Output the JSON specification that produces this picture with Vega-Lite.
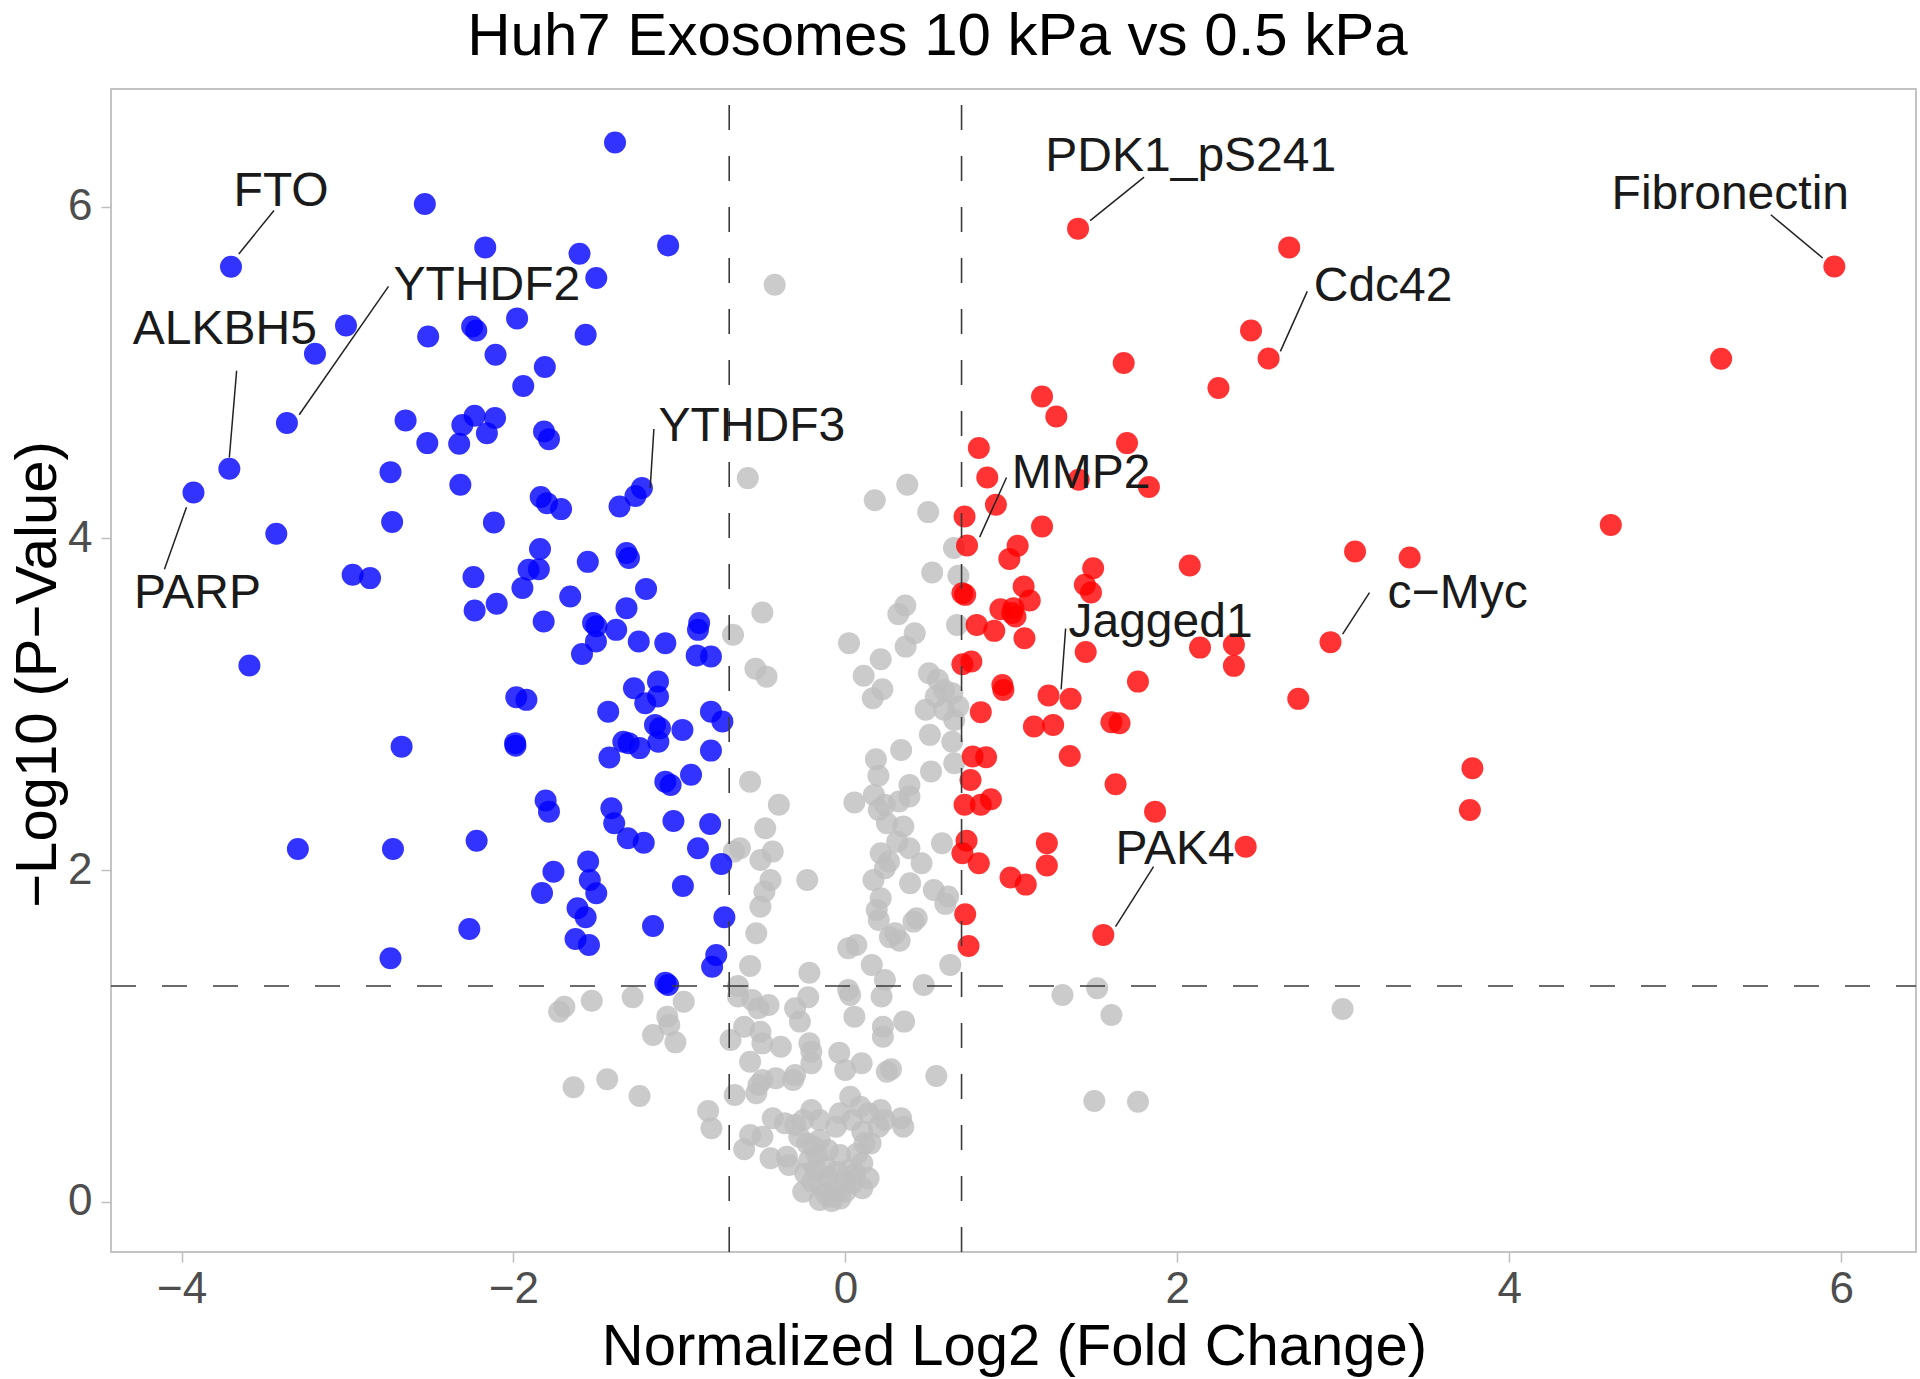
{
  "$schema": "https://vega.github.io/schema/vega-lite/v6.json",
  "width": 1805,
  "height": 1163,
  "autosize": {"type": "none"},
  "padding": {"left": 111, "top": 89, "right": 4, "bottom": 127},
  "background": "white",
  "config": {
    "view": {"stroke": "#C4C4C4", "strokeWidth": 2},
    "font": "Liberation Sans",
    "axis": {"grid": false, "domain": false, "tickSize": 10, "tickWidth": 1.5, "tickColor": "#BFBFBF", "labelFontSize": 44, "labelColor": "#4D4D4D",
             "labelFont": "Liberation Sans", "titleFont": "Liberation Sans", "titleFontSize": 58, "titleFontWeight": "normal", "titleColor": "black",
             "labelFlush": false, "labelOverlap": false, "format": "d"}
  },
  "title": {"text": "Huh7 Exosomes 10 kPa vs 0.5 kPa", "fontSize": 60, "fontWeight": "normal", "font": "Liberation Sans", "color": "black", "anchor": "middle", "dx": -76, "offset": 20},
  "datasets": {
    "points": [
      {"x": -1.693, "y": 1.176, "g": "ns"}, {"x": -1.725, "y": 1.146, "g": "ns"}, {"x": -1.528, "y": 1.212, "g": "ns"}, {"x": -1.282, "y": 1.233, "g": "ns"},
      {"x": -0.974, "y": 1.206, "g": "ns"}, {"x": -1.073, "y": 1.116, "g": "ns"}, {"x": -1.061, "y": 1.066, "g": "ns"}, {"x": -1.159, "y": 1.005, "g": "ns"},
      {"x": -1.024, "y": 0.961, "g": "ns"}, {"x": -1.638, "y": 0.690, "g": "ns"}, {"x": -1.435, "y": 0.738, "g": "ns"}, {"x": -1.240, "y": 0.637, "g": "ns"},
      {"x": -0.827, "y": 0.547, "g": "ns"}, {"x": -0.807, "y": 0.443, "g": "ns"},
      {"x": -0.426, "y": 5.529, "g": "ns"}, {"x": -0.588, "y": 4.363, "g": "ns"}, {"x": 0.373, "y": 4.323, "g": "ns"}, {"x": 0.177, "y": 4.230, "g": "ns"},
      {"x": 0.499, "y": 4.158, "g": "ns"}, {"x": 0.654, "y": 3.941, "g": "ns"}, {"x": 0.523, "y": 3.794, "g": "ns"}, {"x": 0.681, "y": 3.774, "g": "ns"},
      {"x": -0.500, "y": 3.553, "g": "ns"}, {"x": -0.677, "y": 3.418, "g": "ns"}, {"x": 0.361, "y": 3.595, "g": "ns"}, {"x": 0.319, "y": 3.543, "g": "ns"},
      {"x": 0.418, "y": 3.428, "g": "ns"}, {"x": 0.022, "y": 3.368, "g": "ns"}, {"x": 0.363, "y": 3.347, "g": "ns"}, {"x": 0.213, "y": 3.271, "g": "ns"},
      {"x": 0.673, "y": 3.478, "g": "ns"}, {"x": -0.542, "y": 3.213, "g": "ns"}, {"x": -0.475, "y": 3.166, "g": "ns"}, {"x": 0.110, "y": 3.171, "g": "ns"},
      {"x": 0.504, "y": 3.187, "g": "ns"}, {"x": 0.223, "y": 3.090, "g": "ns"}, {"x": 0.165, "y": 3.036, "g": "ns"}, {"x": 0.558, "y": 3.147, "g": "ns"},
      {"x": 0.595, "y": 3.086, "g": "ns"}, {"x": 0.545, "y": 3.046, "g": "ns"}, {"x": 0.644, "y": 3.066, "g": "ns"}, {"x": 0.484, "y": 2.966, "g": "ns"},
      {"x": 0.595, "y": 2.966, "g": "ns"}, {"x": 0.681, "y": 2.986, "g": "ns"}, {"x": 0.656, "y": 2.905, "g": "ns"}, {"x": 0.509, "y": 2.815, "g": "ns"},
      {"x": 0.644, "y": 2.774, "g": "ns"}, {"x": 0.656, "y": 2.644, "g": "ns"}, {"x": 0.516, "y": 2.594, "g": "ns"}, {"x": 0.336, "y": 2.724, "g": "ns"},
      {"x": 0.184, "y": 2.668, "g": "ns"}, {"x": 0.199, "y": 2.568, "g": "ns"}, {"x": 0.386, "y": 2.513, "g": "ns"}, {"x": 0.172, "y": 2.453, "g": "ns"},
      {"x": 0.054, "y": 2.407, "g": "ns"}, {"x": 0.238, "y": 2.393, "g": "ns"}, {"x": 0.201, "y": 2.362, "g": "ns"}, {"x": 0.324, "y": 2.413, "g": "ns"},
      {"x": 0.386, "y": 2.443, "g": "ns"}, {"x": 0.250, "y": 2.282, "g": "ns"}, {"x": 0.349, "y": 2.262, "g": "ns"}, {"x": 0.312, "y": 2.171, "g": "ns"},
      {"x": 0.386, "y": 2.131, "g": "ns"}, {"x": 0.213, "y": 2.101, "g": "ns"}, {"x": 0.263, "y": 2.051, "g": "ns"}, {"x": 0.238, "y": 2.011, "g": "ns"},
      {"x": 0.459, "y": 2.041, "g": "ns"}, {"x": 0.582, "y": 2.162, "g": "ns"}, {"x": 0.169, "y": 1.940, "g": "ns"}, {"x": 0.390, "y": 1.920, "g": "ns"},
      {"x": 0.533, "y": 1.880, "g": "ns"}, {"x": 0.619, "y": 1.840, "g": "ns"}, {"x": -0.401, "y": 2.393, "g": "ns"}, {"x": -0.574, "y": 2.533, "g": "ns"},
      {"x": -0.483, "y": 2.252, "g": "ns"}, {"x": -0.635, "y": 2.131, "g": "ns"}, {"x": -0.672, "y": 2.111, "g": "ns"}, {"x": -0.438, "y": 2.111, "g": "ns"},
      {"x": -0.512, "y": 2.061, "g": "ns"}, {"x": -0.451, "y": 1.940, "g": "ns"}, {"x": -0.230, "y": 1.940, "g": "ns"}, {"x": -0.488, "y": 1.870, "g": "ns"},
      {"x": 0.213, "y": 1.830, "g": "ns"}, {"x": -0.512, "y": 1.779, "g": "ns"}, {"x": -0.537, "y": 1.619, "g": "ns"}, {"x": -0.574, "y": 1.422, "g": "ns"},
      {"x": -0.647, "y": 1.301, "g": "ns"}, {"x": -0.647, "y": 1.237, "g": "ns"}, {"x": -0.562, "y": 1.217, "g": "ns"}, {"x": -0.524, "y": 1.166, "g": "ns"},
      {"x": -0.463, "y": 1.186, "g": "ns"}, {"x": -0.303, "y": 1.166, "g": "ns"}, {"x": -0.274, "y": 1.086, "g": "ns"}, {"x": -0.217, "y": 1.381, "g": "ns"},
      {"x": -0.224, "y": 1.233, "g": "ns"}, {"x": -0.610, "y": 1.055, "g": "ns"}, {"x": -0.692, "y": 0.975, "g": "ns"}, {"x": -0.512, "y": 1.025, "g": "ns"},
      {"x": -0.500, "y": 0.955, "g": "ns"}, {"x": -0.389, "y": 0.935, "g": "ns"}, {"x": -0.217, "y": 0.955, "g": "ns"}, {"x": -0.205, "y": 0.905, "g": "ns"},
      {"x": -0.205, "y": 0.835, "g": "ns"}, {"x": -0.574, "y": 0.844, "g": "ns"}, {"x": -0.500, "y": 0.734, "g": "ns"}, {"x": -0.524, "y": 0.704, "g": "ns"},
      {"x": -0.537, "y": 0.654, "g": "ns"}, {"x": -0.419, "y": 0.744, "g": "ns"}, {"x": -0.315, "y": 0.734, "g": "ns"}, {"x": -0.303, "y": 0.764, "g": "ns"},
      {"x": -0.667, "y": 0.644, "g": "ns"}, {"x": 0.017, "y": 1.277, "g": "ns"}, {"x": 0.029, "y": 1.247, "g": "ns"}, {"x": 0.238, "y": 1.337, "g": "ns"},
      {"x": 0.218, "y": 1.237, "g": "ns"}, {"x": 0.472, "y": 1.307, "g": "ns"}, {"x": 0.054, "y": 1.116, "g": "ns"}, {"x": 0.226, "y": 1.055, "g": "ns"},
      {"x": 0.226, "y": 0.995, "g": "ns"}, {"x": 0.354, "y": 1.086, "g": "ns"}, {"x": -0.037, "y": 0.899, "g": "ns"}, {"x": -0.001, "y": 0.794, "g": "ns"},
      {"x": 0.098, "y": 0.835, "g": "ns"}, {"x": 0.250, "y": 0.784, "g": "ns"}, {"x": 0.275, "y": 0.799, "g": "ns"}, {"x": 0.548, "y": 0.758, "g": "ns"},
      {"x": 0.201, "y": 1.699, "g": "ns"}, {"x": 0.189, "y": 1.759, "g": "ns"}, {"x": 0.268, "y": 1.595, "g": "ns"}, {"x": 0.327, "y": 1.574, "g": "ns"},
      {"x": 0.300, "y": 1.619, "g": "ns"}, {"x": 0.430, "y": 1.709, "g": "ns"}, {"x": 0.410, "y": 1.689, "g": "ns"}, {"x": 0.602, "y": 1.796, "g": "ns"},
      {"x": 0.066, "y": 1.548, "g": "ns"}, {"x": 0.017, "y": 1.528, "g": "ns"}, {"x": 0.159, "y": 1.428, "g": "ns"}, {"x": 0.632, "y": 1.428, "g": "ns"},
      {"x": 1.308, "y": 1.247, "g": "ns"}, {"x": 1.517, "y": 1.287, "g": "ns"}, {"x": 1.603, "y": 1.126, "g": "ns"}, {"x": 1.500, "y": 0.607, "g": "ns"},
      {"x": 1.763, "y": 0.603, "g": "ns"}, {"x": 2.996, "y": 1.162, "g": "ns"},
      {"x": 0.029, "y": 0.633, "g": "ns"}, {"x": 0.090, "y": 0.573, "g": "ns"}, {"x": 0.140, "y": 0.533, "g": "ns"}, {"x": 0.213, "y": 0.553, "g": "ns"},
      {"x": 0.238, "y": 0.493, "g": "ns"}, {"x": 0.336, "y": 0.503, "g": "ns"}, {"x": 0.349, "y": 0.452, "g": "ns"}, {"x": -0.033, "y": 0.533, "g": "ns"},
      {"x": -0.057, "y": 0.452, "g": "ns"}, {"x": 0.041, "y": 0.493, "g": "ns"}, {"x": 0.102, "y": 0.422, "g": "ns"}, {"x": 0.115, "y": 0.352, "g": "ns"},
      {"x": 0.152, "y": 0.352, "g": "ns"}, {"x": -0.205, "y": 0.553, "g": "ns"}, {"x": -0.155, "y": 0.493, "g": "ns"}, {"x": -0.254, "y": 0.493, "g": "ns"},
      {"x": -0.303, "y": 0.463, "g": "ns"}, {"x": -0.438, "y": 0.503, "g": "ns"}, {"x": -0.365, "y": 0.473, "g": "ns"}, {"x": -0.574, "y": 0.402, "g": "ns"},
      {"x": -0.500, "y": 0.392, "g": "ns"}, {"x": -0.610, "y": 0.316, "g": "ns"}, {"x": -0.451, "y": 0.262, "g": "ns"}, {"x": -0.353, "y": 0.271, "g": "ns"},
      {"x": -0.340, "y": 0.221, "g": "ns"}, {"x": -0.278, "y": 0.392, "g": "ns"}, {"x": -0.230, "y": 0.352, "g": "ns"}, {"x": -0.155, "y": 0.372, "g": "ns"},
      {"x": -0.106, "y": 0.312, "g": "ns"}, {"x": -0.033, "y": 0.282, "g": "ns"}, {"x": 0.102, "y": 0.232, "g": "ns"}, {"x": 0.140, "y": 0.141, "g": "ns"},
      {"x": 0.102, "y": 0.081, "g": "ns"}, {"x": -0.242, "y": 0.171, "g": "ns"}, {"x": -0.254, "y": 0.060, "g": "ns"}, {"x": -0.180, "y": 0.191, "g": "ns"},
      {"x": -0.119, "y": 0.211, "g": "ns"}, {"x": -0.106, "y": 0.151, "g": "ns"}, {"x": -0.143, "y": 0.090, "g": "ns"}, {"x": -0.082, "y": 0.030, "g": "ns"},
      {"x": -0.155, "y": 0.010, "g": "ns"}, {"x": -0.057, "y": 0.071, "g": "ns"}, {"x": -0.008, "y": 0.131, "g": "ns"}, {"x": 0.017, "y": 0.191, "g": "ns"},
      {"x": 0.041, "y": 0.111, "g": "ns"}, {"x": -0.082, "y": 0.005, "g": "ns"}, {"x": -0.192, "y": 0.332, "g": "ns"}, {"x": -0.217, "y": 0.252, "g": "ns"},
      {"x": 0.201, "y": 0.452, "g": "ns"}, {"x": -0.120, "y": 0.050, "g": "ns"}, {"x": -0.030, "y": 0.020, "g": "ns"}, {"x": 0.060, "y": 0.170, "g": "ns"},
      {"x": -0.200, "y": 0.120, "g": "ns"}, {"x": -0.050, "y": 0.180, "g": "ns"}, {"x": 0.000, "y": 0.060, "g": "ns"}, {"x": -0.170, "y": 0.280, "g": "ns"},
      {"x": 0.070, "y": 0.290, "g": "ns"},
      {"x": -1.388, "y": 6.387, "g": "down"}, {"x": -2.534, "y": 6.016, "g": "down"}, {"x": -3.702, "y": 5.637, "g": "down"}, {"x": -2.170, "y": 5.754, "g": "down"},
      {"x": -1.068, "y": 5.766, "g": "down"}, {"x": -1.602, "y": 5.716, "g": "down"}, {"x": -1.501, "y": 5.569, "g": "down"}, {"x": -3.009, "y": 5.283, "g": "down"},
      {"x": -3.196, "y": 5.113, "g": "down"}, {"x": -2.514, "y": 5.217, "g": "down"}, {"x": -2.249, "y": 5.277, "g": "down"}, {"x": -2.224, "y": 5.253, "g": "down"},
      {"x": -1.978, "y": 5.326, "g": "down"}, {"x": -1.565, "y": 5.227, "g": "down"}, {"x": -2.108, "y": 5.107, "g": "down"}, {"x": -1.811, "y": 5.033, "g": "down"},
      {"x": -1.941, "y": 4.918, "g": "down"}, {"x": -3.365, "y": 4.695, "g": "down"}, {"x": -2.650, "y": 4.711, "g": "down"}, {"x": -2.234, "y": 4.739, "g": "down"},
      {"x": -2.111, "y": 4.725, "g": "down"}, {"x": -2.308, "y": 4.683, "g": "down"}, {"x": -2.160, "y": 4.634, "g": "down"}, {"x": -2.327, "y": 4.570, "g": "down"},
      {"x": -2.519, "y": 4.574, "g": "down"}, {"x": -1.816, "y": 4.644, "g": "down"}, {"x": -1.786, "y": 4.598, "g": "down"}, {"x": -2.741, "y": 4.399, "g": "down"},
      {"x": -2.320, "y": 4.323, "g": "down"}, {"x": -3.928, "y": 4.276, "g": "down"}, {"x": -3.712, "y": 4.419, "g": "down"}, {"x": -1.226, "y": 4.303, "g": "down"},
      {"x": -1.836, "y": 4.249, "g": "down"}, {"x": -1.798, "y": 4.212, "g": "down"}, {"x": -1.713, "y": 4.176, "g": "down"}, {"x": -1.361, "y": 4.192, "g": "down"},
      {"x": -1.265, "y": 4.255, "g": "down"}, {"x": -3.429, "y": 4.027, "g": "down"}, {"x": -2.731, "y": 4.098, "g": "down"}, {"x": -2.118, "y": 4.095, "g": "down"},
      {"x": -1.840, "y": 3.935, "g": "down"}, {"x": -1.552, "y": 3.858, "g": "down"}, {"x": -1.319, "y": 3.911, "g": "down"}, {"x": -1.304, "y": 3.881, "g": "down"},
      {"x": -2.969, "y": 3.780, "g": "down"}, {"x": -2.864, "y": 3.760, "g": "down"}, {"x": -2.241, "y": 3.766, "g": "down"}, {"x": -1.909, "y": 3.810, "g": "down"},
      {"x": -1.847, "y": 3.814, "g": "down"}, {"x": -1.946, "y": 3.700, "g": "down"}, {"x": -1.658, "y": 3.649, "g": "down"}, {"x": -1.201, "y": 3.695, "g": "down"},
      {"x": -2.234, "y": 3.565, "g": "down"}, {"x": -2.101, "y": 3.605, "g": "down"}, {"x": -1.319, "y": 3.579, "g": "down"}, {"x": -1.818, "y": 3.498, "g": "down"},
      {"x": -1.520, "y": 3.490, "g": "down"}, {"x": -1.500, "y": 3.470, "g": "down"}, {"x": -1.381, "y": 3.448, "g": "down"}, {"x": -1.503, "y": 3.378, "g": "down"},
      {"x": -1.245, "y": 3.378, "g": "down"}, {"x": -1.085, "y": 3.368, "g": "down"}, {"x": -0.881, "y": 3.489, "g": "down"}, {"x": -0.888, "y": 3.448, "g": "down"},
      {"x": -1.587, "y": 3.302, "g": "down"}, {"x": -0.896, "y": 3.293, "g": "down"}, {"x": -0.810, "y": 3.287, "g": "down"}, {"x": -3.591, "y": 3.233, "g": "down"},
      {"x": -1.274, "y": 3.096, "g": "down"}, {"x": -1.129, "y": 3.136, "g": "down"}, {"x": -1.129, "y": 3.046, "g": "down"}, {"x": -1.206, "y": 3.006, "g": "down"},
      {"x": -1.983, "y": 3.042, "g": "down"}, {"x": -1.922, "y": 3.026, "g": "down"}, {"x": -1.429, "y": 2.955, "g": "down"}, {"x": -0.810, "y": 2.955, "g": "down"},
      {"x": -0.741, "y": 2.895, "g": "down"}, {"x": -1.147, "y": 2.875, "g": "down"}, {"x": -1.117, "y": 2.855, "g": "down"}, {"x": -0.982, "y": 2.845, "g": "down"},
      {"x": -1.338, "y": 2.774, "g": "down"}, {"x": -1.306, "y": 2.765, "g": "down"}, {"x": -1.240, "y": 2.735, "g": "down"}, {"x": -1.127, "y": 2.774, "g": "down"},
      {"x": -1.422, "y": 2.678, "g": "down"}, {"x": -0.810, "y": 2.720, "g": "down"}, {"x": -1.990, "y": 2.765, "g": "down"}, {"x": -1.988, "y": 2.750, "g": "down"},
      {"x": -2.674, "y": 2.744, "g": "down"}, {"x": -1.085, "y": 2.533, "g": "down"}, {"x": -1.053, "y": 2.513, "g": "down"}, {"x": -0.930, "y": 2.574, "g": "down"},
      {"x": -1.806, "y": 2.419, "g": "down"}, {"x": -1.786, "y": 2.352, "g": "down"}, {"x": -1.410, "y": 2.373, "g": "down"}, {"x": -1.393, "y": 2.282, "g": "down"},
      {"x": -1.036, "y": 2.296, "g": "down"}, {"x": -0.815, "y": 2.278, "g": "down"}, {"x": -1.311, "y": 2.192, "g": "down"}, {"x": -1.215, "y": 2.165, "g": "down"},
      {"x": -3.299, "y": 2.127, "g": "down"}, {"x": -2.726, "y": 2.127, "g": "down"}, {"x": -2.222, "y": 2.176, "g": "down"}, {"x": -0.888, "y": 2.131, "g": "down"},
      {"x": -0.748, "y": 2.037, "g": "down"}, {"x": -1.550, "y": 2.051, "g": "down"}, {"x": -1.540, "y": 1.940, "g": "down"}, {"x": -1.501, "y": 1.860, "g": "down"},
      {"x": -1.759, "y": 1.990, "g": "down"}, {"x": -0.979, "y": 1.904, "g": "down"}, {"x": -1.828, "y": 1.862, "g": "down"}, {"x": -1.614, "y": 1.770, "g": "down"},
      {"x": -1.565, "y": 1.715, "g": "down"}, {"x": -1.626, "y": 1.584, "g": "down"}, {"x": -1.545, "y": 1.548, "g": "down"}, {"x": -2.266, "y": 1.645, "g": "down"},
      {"x": -2.741, "y": 1.468, "g": "down"}, {"x": -1.159, "y": 1.663, "g": "down"}, {"x": -0.729, "y": 1.715, "g": "down"}, {"x": -0.778, "y": 1.488, "g": "down"},
      {"x": -0.803, "y": 1.417, "g": "down"}, {"x": -1.085, "y": 1.321, "g": "down"}, {"x": -1.068, "y": 1.307, "g": "down"},
      {"x": 1.402, "y": 5.867, "g": "up"}, {"x": 2.444, "y": 5.253, "g": "up"}, {"x": 2.550, "y": 5.084, "g": "up"}, {"x": 2.248, "y": 4.906, "g": "up"},
      {"x": 1.677, "y": 5.057, "g": "up"}, {"x": 1.185, "y": 4.855, "g": "up"}, {"x": 1.271, "y": 4.735, "g": "up"}, {"x": 1.697, "y": 4.574, "g": "up"},
      {"x": 0.804, "y": 4.544, "g": "up"}, {"x": 0.855, "y": 4.367, "g": "up"}, {"x": 1.406, "y": 4.353, "g": "up"}, {"x": 1.829, "y": 4.309, "g": "up"},
      {"x": 2.674, "y": 5.754, "g": "up"}, {"x": 5.277, "y": 5.083, "g": "up"}, {"x": 5.959, "y": 5.639, "g": "up"}, {"x": 0.718, "y": 4.131, "g": "up"},
      {"x": 0.907, "y": 4.202, "g": "up"}, {"x": 0.733, "y": 3.957, "g": "up"}, {"x": 1.185, "y": 4.071, "g": "up"}, {"x": 1.038, "y": 3.955, "g": "up"},
      {"x": 0.988, "y": 3.876, "g": "up"}, {"x": 1.493, "y": 3.820, "g": "up"}, {"x": 1.443, "y": 3.720, "g": "up"}, {"x": 1.480, "y": 3.673, "g": "up"},
      {"x": 2.075, "y": 3.836, "g": "up"}, {"x": 1.074, "y": 3.709, "g": "up"}, {"x": 1.111, "y": 3.625, "g": "up"}, {"x": 0.722, "y": 3.659, "g": "up"},
      {"x": 0.705, "y": 3.669, "g": "up"}, {"x": 0.934, "y": 3.572, "g": "up"}, {"x": 1.013, "y": 3.579, "g": "up"}, {"x": 1.025, "y": 3.528, "g": "up"},
      {"x": 1.005, "y": 3.549, "g": "up"}, {"x": 0.791, "y": 3.478, "g": "up"}, {"x": 0.897, "y": 3.442, "g": "up"}, {"x": 1.079, "y": 3.398, "g": "up"},
      {"x": 1.448, "y": 3.314, "g": "up"}, {"x": 2.137, "y": 3.341, "g": "up"}, {"x": 2.341, "y": 3.358, "g": "up"}, {"x": 2.341, "y": 3.231, "g": "up"},
      {"x": 0.759, "y": 3.257, "g": "up"}, {"x": 0.705, "y": 3.241, "g": "up"}, {"x": 0.946, "y": 3.116, "g": "up"}, {"x": 0.952, "y": 3.086, "g": "up"},
      {"x": 1.763, "y": 3.136, "g": "up"}, {"x": 1.224, "y": 3.052, "g": "up"}, {"x": 1.357, "y": 3.032, "g": "up"}, {"x": 0.816, "y": 2.952, "g": "up"},
      {"x": 1.136, "y": 2.865, "g": "up"}, {"x": 1.252, "y": 2.875, "g": "up"}, {"x": 1.603, "y": 2.891, "g": "up"}, {"x": 1.652, "y": 2.885, "g": "up"},
      {"x": 1.352, "y": 2.688, "g": "up"}, {"x": 0.767, "y": 2.684, "g": "up"}, {"x": 0.848, "y": 2.680, "g": "up"}, {"x": 0.754, "y": 2.543, "g": "up"},
      {"x": 1.628, "y": 2.517, "g": "up"}, {"x": 0.718, "y": 2.393, "g": "up"}, {"x": 0.816, "y": 2.393, "g": "up"}, {"x": 0.877, "y": 2.427, "g": "up"},
      {"x": 1.866, "y": 2.352, "g": "up"}, {"x": 0.730, "y": 2.177, "g": "up"}, {"x": 1.214, "y": 2.162, "g": "up"}, {"x": 0.705, "y": 2.101, "g": "up"},
      {"x": 0.804, "y": 2.041, "g": "up"}, {"x": 1.214, "y": 2.027, "g": "up"}, {"x": 0.995, "y": 1.955, "g": "up"}, {"x": 1.087, "y": 1.912, "g": "up"},
      {"x": 2.412, "y": 2.141, "g": "up"}, {"x": 4.612, "y": 4.081, "g": "up"}, {"x": 3.071, "y": 3.920, "g": "up"}, {"x": 3.400, "y": 3.884, "g": "up"},
      {"x": 2.923, "y": 3.374, "g": "up"}, {"x": 2.729, "y": 3.032, "g": "up"}, {"x": 3.778, "y": 2.614, "g": "up"}, {"x": 3.763, "y": 2.362, "g": "up"},
      {"x": 0.722, "y": 1.733, "g": "up"}, {"x": 0.742, "y": 1.542, "g": "up"}, {"x": 1.554, "y": 1.609, "g": "up"}
    ],
    "vlines": [{"vx": -0.7}, {"vx": 0.7}],
    "hlines": [{"hy": 1.301}],
    "labels": [
      {"label": "FTO", "lx": -3.400, "ly": 6.001, "sx1": -3.443, "sy1": 5.977, "sx2": -3.655, "sy2": 5.714},
      {"label": "ALKBH5", "lx": -3.739, "ly": 5.171, "sx1": -3.668, "sy1": 5.010, "sx2": -3.712, "sy2": 4.487},
      {"label": "YTHDF2", "lx": -2.160, "ly": 5.438, "sx1": -2.753, "sy1": 5.519, "sx2": -3.291, "sy2": 4.745},
      {"label": "YTHDF3", "lx": -0.563, "ly": 4.588, "sx1": -1.154, "sy1": 4.659, "sx2": -1.176, "sy2": 4.303},
      {"label": "PARP", "lx": -3.904, "ly": 3.579, "sx1": -4.103, "sy1": 3.814, "sx2": -3.970, "sy2": 4.188},
      {"label": "PDK1_pS241", "lx": 2.081, "ly": 6.212, "sx1": 1.800, "sy1": 6.178, "sx2": 1.475, "sy2": 5.915},
      {"label": "Fibronectin", "lx": 5.332, "ly": 5.985, "sx1": 5.576, "sy1": 5.951, "sx2": 5.889, "sy2": 5.690},
      {"label": "Cdc42", "lx": 3.240, "ly": 5.428, "sx1": 2.783, "sy1": 5.489, "sx2": 2.621, "sy2": 5.127},
      {"label": "MMP2", "lx": 1.421, "ly": 4.303, "sx1": 0.971, "sy1": 4.367, "sx2": 0.809, "sy2": 4.007},
      {"label": "Jagged1", "lx": 1.899, "ly": 3.402, "sx1": 1.327, "sy1": 3.456, "sx2": 1.300, "sy2": 3.090},
      {"label": "c−Myc", "lx": 3.689, "ly": 3.579, "sx1": 3.158, "sy1": 3.673, "sx2": 2.996, "sy2": 3.422},
      {"label": "PAK4", "lx": 1.987, "ly": 2.037, "sx1": 1.857, "sy1": 2.021, "sx2": 1.628, "sy2": 1.659}
    ]
  },
  "layer": [
    {
      "data": {"name": "points"},
      "mark": {"type": "circle", "size": 484, "opacity": 0.8},
      "encoding": {
        "x": {"field": "x", "type": "quantitative", "title": "Normalized Log2 (Fold Change)",
              "scale": {"domain": [-4.425, 6.451], "nice": false, "zero": false},
              "axis": {"values": [-4, -2, 0, 2, 4, 6], "format": "d", "labelPadding": 5, "titleBaseline": "alphabetic", "titleY": 112, "titleX": 903, "titleAlign": "center"}},
        "y": {"field": "y", "type": "quantitative", "title": "−Log10 (P−Value)",
              "scale": {"domain": [-0.303, 6.709], "nice": false, "zero": false},
              "axis": {"values": [0, 2, 4, 6], "format": "d", "labelPadding": 9, "titleBaseline": "alphabetic", "titleAngle": 270, "titleX": -56, "titleY": 585, "titleAlign": "center"}},
        "color": {"field": "g", "type": "nominal",
                  "scale": {"domain": ["down", "ns", "up"], "range": ["#0000FF", "#BEBEBE", "#FF0000"]}, "legend": null}
      }
    },
    {
      "data": {"name": "vlines"},
      "mark": {"type": "rule", "strokeDash": [25, 26], "color": "#3A3A3A", "strokeWidth": 1.6},
      "encoding": {
        "x": {"field": "vx", "type": "quantitative", "title": "Normalized Log2 (Fold Change)"},
        "y": {"datum": -0.303, "type": "quantitative", "title": "−Log10 (P−Value)"},
        "y2": {"datum": 6.709}
      }
    },
    {
      "data": {"name": "hlines"},
      "mark": {"type": "rule", "strokeDash": [25, 26], "color": "#3A3A3A", "strokeWidth": 1.6},
      "encoding": {
        "y": {"field": "hy", "type": "quantitative", "title": "−Log10 (P−Value)"},
        "x": {"datum": -4.425, "type": "quantitative", "title": "Normalized Log2 (Fold Change)"},
        "x2": {"datum": 6.451}
      }
    },
    {
      "data": {"name": "labels"},
      "mark": {"type": "rule", "color": "#222222", "strokeWidth": 1.5},
      "encoding": {
        "x": {"field": "sx1", "type": "quantitative", "title": "Normalized Log2 (Fold Change)"},
        "y": {"field": "sy1", "type": "quantitative", "title": "−Log10 (P−Value)"},
        "x2": {"field": "sx2"},
        "y2": {"field": "sy2"}
      }
    },
    {
      "data": {"name": "labels"},
      "mark": {"type": "text", "font": "Liberation Sans", "fontSize": 48, "align": "center", "baseline": "alphabetic", "color": "#1A1A1A"},
      "encoding": {
        "x": {"field": "lx", "type": "quantitative", "title": "Normalized Log2 (Fold Change)"},
        "y": {"field": "ly", "type": "quantitative", "title": "−Log10 (P−Value)"},
        "text": {"field": "label", "type": "nominal"}
      }
    }
  ]
}
